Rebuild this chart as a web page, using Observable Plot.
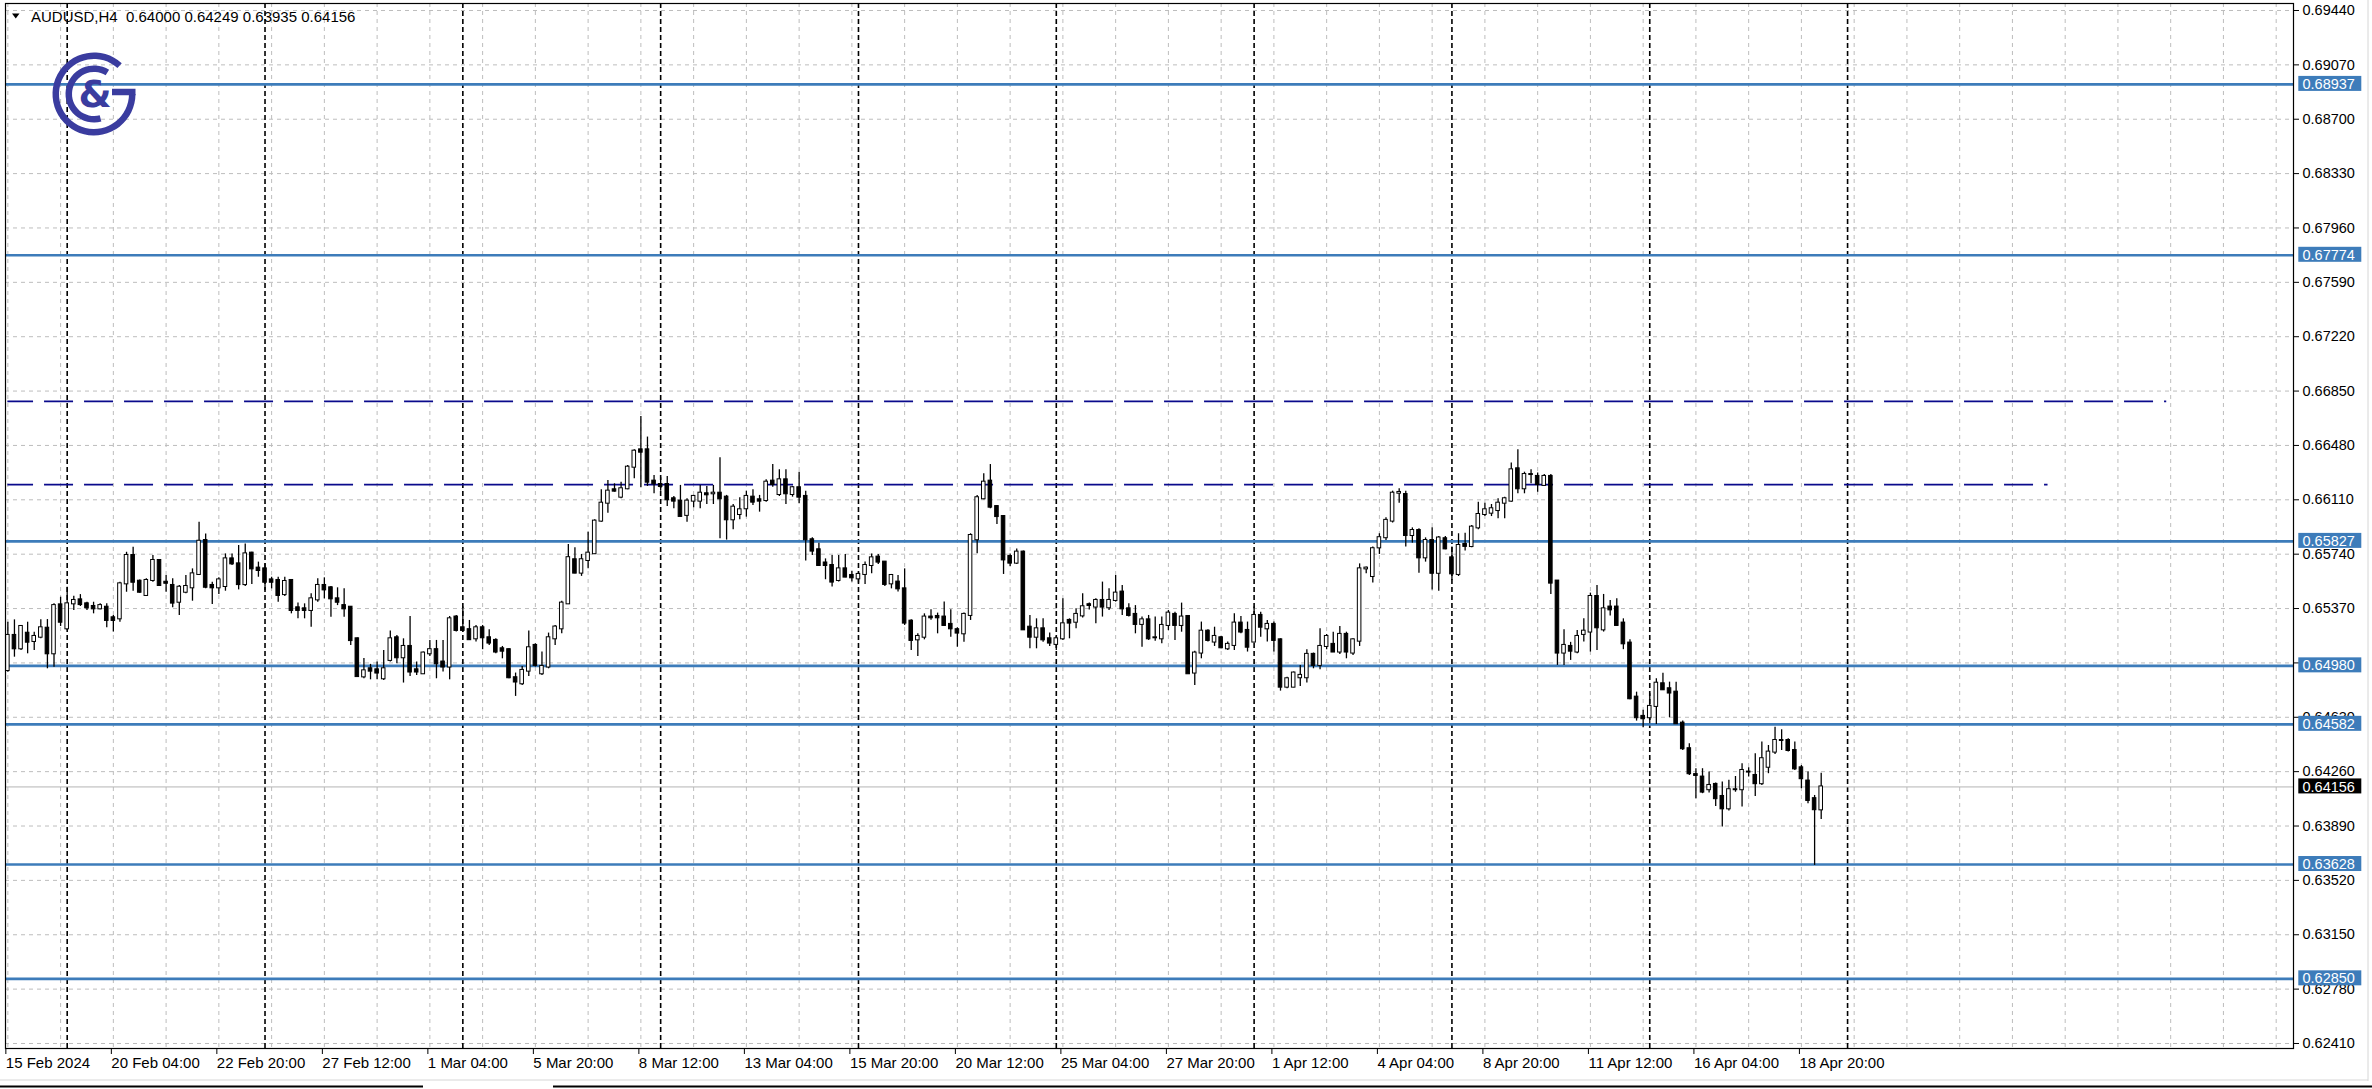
<!DOCTYPE html>
<html><head><meta charset="utf-8">
<script src="https://cdn.jsdelivr.net/npm/d3@7"></script>
<script src="https://cdn.jsdelivr.net/npm/@observablehq/plot@0.6"></script>
<style>html,body{margin:0;padding:0;background:#fff;overflow:hidden}svg{display:block}</style>
</head><body><div id="chart"></div>
<script>
// ---------------- data ----------------
const symbol = "AUDUSD,H4";
const opens = [0.64948,0.65187,0.65096,0.65202,0.65146,0.65175,0.65236,0.65062,0.65395,0.65232,0.65402,0.65429,0.65402,0.65384,0.65368,0.65379,0.65307,0.65300,0.65538,0.65731,0.65556,0.65459,0.65561,0.65697,0.65549,0.65527,0.65413,0.65481,0.65511,0.65602,0.65833,0.65527,0.65511,0.65520,0.65708,0.65674,0.65533,0.65747,0.65645,0.65640,0.65565,0.65561,0.65465,0.65561,0.65375,0.65368,0.65357,0.65429,0.65527,0.65511,0.65436,0.65390,0.65379,0.65164,0.64905,0.64960,0.64953,0.64892,0.65017,0.65171,0.65035,0.65112,0.64953,0.64926,0.65062,0.65090,0.65006,0.64972,0.65312,0.65239,0.65226,0.65164,0.65239,0.65171,0.65153,0.65096,0.65090,0.64899,0.64858,0.64944,0.65119,0.64926,0.64972,0.65164,0.65232,0.65402,0.65702,0.65611,0.65697,0.65743,0.65965,0.66087,0.66178,0.66128,0.66185,0.66332,0.66450,0.66450,0.66237,0.66214,0.66214,0.66117,0.66101,0.66004,0.66101,0.66101,0.66151,0.66151,0.66155,0.66128,0.65974,0.66010,0.66049,0.66128,0.66110,0.66105,0.66237,0.66146,0.66246,0.66146,0.66192,0.66133,0.65838,0.65770,0.65680,0.65663,0.65561,0.65640,0.65595,0.65572,0.65602,0.65663,0.65720,0.65686,0.65538,0.65550,0.65504,0.65284,0.65157,0.65175,0.65312,0.65316,0.65312,0.65262,0.65226,0.65198,0.65323,0.65838,0.66117,0.66237,0.66064,0.65996,0.65724,0.65679,0.65754,0.65243,0.65175,0.65232,0.65164,0.65126,0.65164,0.65289,0.65277,0.65320,0.65396,0.65380,0.65425,0.65375,0.65425,0.65482,0.65368,0.65330,0.65262,0.65293,0.65171,0.65164,0.65255,0.65330,0.65255,0.65316,0.64931,0.65067,0.65216,0.65142,0.65171,0.65096,0.65119,0.65271,0.65221,0.65142,0.65323,0.65232,0.65262,0.65157,0.64835,0.64835,0.64899,0.64899,0.65058,0.64983,0.65112,0.65126,0.65074,0.65194,0.65067,0.65148,0.65640,0.65588,0.65783,0.65852,0.65965,0.66155,0.66146,0.65867,0.65901,0.65715,0.65833,0.65610,0.65845,0.65715,0.65602,0.65806,0.65792,0.65919,0.66010,0.66019,0.66037,0.66087,0.66101,0.66321,0.66185,0.66282,0.66269,0.66208,0.66269,0.65557,0.65067,0.65112,0.65074,0.65194,0.65210,0.65452,0.65225,0.65380,0.65380,0.65271,0.65135,0.64767,0.64636,0.64627,0.64704,0.64858,0.64824,0.64801,0.64590,0.64416,0.64240,0.64223,0.64137,0.64173,0.64091,0.64007,0.64137,0.64137,0.64257,0.64234,0.64178,0.64290,0.64393,0.64472,0.64472,0.64404,0.64286,0.64196,0.64076,0.64000];
const highs = [0.65277,0.65293,0.65255,0.65277,0.65209,0.65293,0.65295,0.65402,0.65447,0.65515,0.65454,0.65465,0.65413,0.65413,0.65402,0.65402,0.65323,0.65549,0.65753,0.65787,0.65565,0.65572,0.65731,0.65701,0.65595,0.65572,0.65527,0.65595,0.65640,0.65958,0.65878,0.65549,0.65579,0.65742,0.65742,0.65799,0.65810,0.65753,0.65686,0.65674,0.65583,0.65583,0.65583,0.65561,0.65407,0.65402,0.65470,0.65572,0.65579,0.65520,0.65511,0.65504,0.65384,0.65170,0.65030,0.64990,0.65006,0.65085,0.65217,0.65187,0.65164,0.65316,0.65006,0.65074,0.65153,0.65153,0.65153,0.65316,0.65323,0.65380,0.65289,0.65255,0.65255,0.65226,0.65164,0.65112,0.65096,0.64931,0.64976,0.65217,0.65130,0.65074,0.65203,0.65255,0.65420,0.65806,0.65784,0.65738,0.65890,0.65974,0.66178,0.66242,0.66219,0.66230,0.66344,0.66450,0.66677,0.66537,0.66276,0.66260,0.66269,0.66133,0.66208,0.66117,0.66140,0.66208,0.66201,0.66208,0.66396,0.66140,0.66078,0.66124,0.66169,0.66178,0.66140,0.66246,0.66350,0.66314,0.66314,0.66201,0.66298,0.66169,0.65851,0.65815,0.65708,0.65731,0.65731,0.65738,0.65624,0.65618,0.65686,0.65742,0.65738,0.65686,0.65602,0.65595,0.65640,0.65293,0.65198,0.65334,0.65361,0.65339,0.65414,0.65361,0.65239,0.65339,0.65879,0.66140,0.66287,0.66350,0.66071,0.66003,0.65742,0.65776,0.65761,0.65323,0.65300,0.65300,0.65203,0.65180,0.65436,0.65300,0.65368,0.65470,0.65407,0.65436,0.65550,0.65504,0.65595,0.65527,0.65402,0.65390,0.65312,0.65323,0.65312,0.65312,0.65357,0.65345,0.65407,0.65323,0.65080,0.65278,0.65225,0.65243,0.65180,0.65142,0.65334,0.65316,0.65278,0.65380,0.65345,0.65289,0.65278,0.65164,0.64903,0.64938,0.64983,0.65090,0.65067,0.65232,0.65194,0.65209,0.65248,0.65209,0.65164,0.65674,0.65652,0.65788,0.65879,0.65988,0.66169,0.66185,0.66169,0.65919,0.65913,0.65851,0.65919,0.65861,0.65861,0.65788,0.65879,0.65883,0.65935,0.66094,0.66087,0.66078,0.66117,0.66128,0.66360,0.66450,0.66298,0.66314,0.66292,0.66282,0.66282,0.65561,0.65225,0.65140,0.65221,0.65300,0.65475,0.65527,0.65466,0.65425,0.65436,0.65300,0.65157,0.64801,0.64677,0.64790,0.64892,0.64930,0.64869,0.64869,0.64604,0.64450,0.64280,0.64280,0.64257,0.64182,0.64189,0.64201,0.64227,0.64314,0.64287,0.64382,0.64461,0.64438,0.64563,0.64545,0.64484,0.64461,0.64302,0.64257,0.64098,0.64249];
const lows = [0.64937,0.65039,0.65085,0.65062,0.65084,0.65164,0.64960,0.64971,0.65248,0.65221,0.65357,0.65384,0.65357,0.65334,0.65361,0.65239,0.65210,0.65277,0.65481,0.65488,0.65474,0.65452,0.65549,0.65520,0.65481,0.65375,0.65323,0.65470,0.65420,0.65595,0.65504,0.65397,0.65465,0.65488,0.65663,0.65497,0.65520,0.65533,0.65583,0.65493,0.65504,0.65413,0.65452,0.65334,0.65300,0.65300,0.65243,0.65413,0.65436,0.65311,0.65390,0.65311,0.65118,0.64903,0.64892,0.64885,0.64885,0.64880,0.65006,0.64994,0.64863,0.64908,0.64915,0.64922,0.65044,0.64892,0.64938,0.64885,0.65210,0.65210,0.65153,0.65142,0.65090,0.65119,0.65062,0.65028,0.64892,0.64772,0.64847,0.64908,0.64972,0.64915,0.64960,0.65119,0.65198,0.65398,0.65607,0.65589,0.65641,0.65738,0.65958,0.66019,0.66162,0.66117,0.66178,0.66253,0.66192,0.66201,0.66151,0.66169,0.66065,0.66049,0.65992,0.65958,0.66056,0.66049,0.66078,0.66078,0.65845,0.65836,0.65906,0.65974,0.65992,0.66071,0.66026,0.66094,0.66196,0.66133,0.66078,0.66128,0.66083,0.65693,0.65731,0.65656,0.65566,0.65516,0.65550,0.65579,0.65550,0.65543,0.65534,0.65606,0.65670,0.65520,0.65504,0.65482,0.65255,0.65085,0.65044,0.65157,0.65290,0.65198,0.65248,0.65175,0.65107,0.65141,0.65289,0.65743,0.66110,0.66049,0.65942,0.65602,0.65656,0.65670,0.65220,0.65096,0.65096,0.65141,0.65112,0.65085,0.65153,0.65164,0.65232,0.65305,0.65360,0.65266,0.65312,0.65357,0.65414,0.65323,0.65312,0.65198,0.65107,0.65153,0.65148,0.65130,0.65220,0.65153,0.65209,0.64922,0.64847,0.65028,0.65142,0.65112,0.65096,0.65085,0.65085,0.65198,0.65074,0.65135,0.65175,0.65142,0.65074,0.64808,0.64824,0.64831,0.64840,0.64863,0.64960,0.64953,0.65090,0.65074,0.65058,0.65028,0.65051,0.65112,0.65607,0.65543,0.65738,0.65833,0.65952,0.66087,0.65788,0.65815,0.65610,0.65686,0.65497,0.65488,0.65770,0.65561,0.65588,0.65761,0.65783,0.65906,0.65996,0.65996,0.65981,0.65981,0.66094,0.66151,0.66151,0.66219,0.66162,0.66201,0.65466,0.64983,0.64983,0.65017,0.65062,0.65142,0.65074,0.65085,0.65210,0.65320,0.65248,0.65090,0.64749,0.64604,0.64559,0.64586,0.64581,0.64813,0.64627,0.64581,0.64404,0.64234,0.64076,0.64110,0.64114,0.64023,0.63883,0.63992,0.64120,0.64019,0.64223,0.64091,0.64166,0.64246,0.64377,0.64404,0.64393,0.64268,0.64144,0.64041,0.63622,0.63935];
const closes = [0.65187,0.65096,0.65248,0.65141,0.65180,0.65239,0.65062,0.65390,0.65277,0.65402,0.65425,0.65397,0.65375,0.65368,0.65390,0.65289,0.65289,0.65538,0.65731,0.65549,0.65481,0.65561,0.65697,0.65527,0.65542,0.65407,0.65515,0.65520,0.65606,0.65828,0.65515,0.65511,0.65565,0.65708,0.65674,0.65533,0.65742,0.65640,0.65629,0.65549,0.65549,0.65459,0.65554,0.65357,0.65357,0.65357,0.65436,0.65527,0.65497,0.65436,0.65413,0.65368,0.65152,0.64907,0.64946,0.64944,0.64931,0.64960,0.65164,0.65035,0.65112,0.64938,0.64938,0.65067,0.65090,0.64994,0.64972,0.65300,0.65221,0.65221,0.65158,0.65239,0.65171,0.65135,0.65074,0.65080,0.64899,0.64870,0.64949,0.65103,0.64983,0.64976,0.65171,0.65244,0.65407,0.65716,0.65611,0.65702,0.65747,0.65965,0.66087,0.66169,0.66169,0.66185,0.66332,0.66441,0.66434,0.66230,0.66219,0.66201,0.66110,0.66101,0.65997,0.66101,0.66133,0.66155,0.66144,0.66155,0.66117,0.65974,0.66060,0.66042,0.66133,0.66094,0.66101,0.66230,0.66214,0.66246,0.66151,0.66192,0.66128,0.65838,0.65761,0.65663,0.65663,0.65550,0.65640,0.65584,0.65579,0.65602,0.65663,0.65715,0.65686,0.65534,0.65595,0.65504,0.65271,0.65153,0.65180,0.65312,0.65307,0.65307,0.65255,0.65232,0.65203,0.65330,0.65867,0.66124,0.66230,0.66060,0.65996,0.65701,0.65679,0.65754,0.65225,0.65175,0.65232,0.65157,0.65135,0.65164,0.65266,0.65271,0.65330,0.65382,0.65391,0.65425,0.65380,0.65425,0.65475,0.65368,0.65323,0.65262,0.65293,0.65164,0.65171,0.65255,0.65339,0.65255,0.65312,0.64926,0.65067,0.65216,0.65153,0.65180,0.65103,0.65126,0.65271,0.65210,0.65107,0.65323,0.65243,0.65262,0.65153,0.64835,0.64892,0.64931,0.64915,0.65058,0.64983,0.65112,0.65180,0.65074,0.65194,0.65074,0.65157,0.65640,0.65645,0.65777,0.65852,0.65970,0.66155,0.66160,0.65867,0.65901,0.65715,0.65833,0.65610,0.65850,0.65776,0.65606,0.65799,0.65793,0.65924,0.66010,0.66042,0.66049,0.66087,0.66117,0.66314,0.66185,0.66282,0.66282,0.66214,0.66269,0.65543,0.65067,0.65119,0.65080,0.65180,0.65216,0.65452,0.65239,0.65368,0.65361,0.65255,0.65130,0.64756,0.64627,0.64620,0.64704,0.64862,0.64817,0.64795,0.64586,0.64416,0.64246,0.64234,0.64121,0.64166,0.64076,0.64007,0.64137,0.64137,0.64268,0.64257,0.64178,0.64348,0.64393,0.64472,0.64472,0.64404,0.64279,0.64212,0.64064,0.64001,0.64156];

const levels = [0.68937, 0.67774, 0.65827, 0.64980, 0.64582, 0.63628, 0.62850];
const lastPrice = 0.64156;
const trendPrices = [0.66780, 0.66214];
const trendEndBars = [327.4, 309.4];
const yTicks = [0.62410,0.62780,0.63150,0.63520,0.63890,0.64260,0.64630,0.65000,0.65370,0.65740,0.66110,0.66480,0.66850,0.67220,0.67590,0.67960,0.68330,0.68700,0.69070,0.69440];
const xTickLabels = ["15 Feb 2024","20 Feb 04:00","22 Feb 20:00","27 Feb 12:00","1 Mar 04:00","5 Mar 20:00","8 Mar 12:00","13 Mar 04:00","15 Mar 20:00","20 Mar 12:00","25 Mar 04:00","27 Mar 20:00","1 Apr 12:00","4 Apr 04:00","8 Apr 20:00","11 Apr 12:00","16 Apr 04:00","18 Apr 20:00"];
const firstBarUTC = Date.UTC(2024, 1, 15, 12);  // first visible H4 bar

// ---------------- layout ----------------
const W = 2372, H = 1089;
const mL = 5, mR = 79, mT = 3, mB = 41;
const barPx = 6.594, firstBarPx = 7.35;
const xDomain = [(mL - firstBarPx) / barPx, (W - mR - firstBarPx) / barPx];
const yDomain = [0.623759, 0.694876];
const FONT = "'Liberation Sans', Arial, sans-serif";

const slots = [];
for (let t = firstBarUTC; slots.length < Math.ceil(xDomain[1]) + 1; t += 4 * 3600e3) {
  const d = new Date(t), wd = d.getUTCDay();
  if (wd !== 0 && wd !== 6) slots.push(d);
}
const nBars = opens.length;
const firstFutureMonday = slots.findIndex((d, i) => i >= nBars && d.getUTCDay() === 1 && d.getUTCHours() === 0);
const separators = slots.map((d, i) => (d.getUTCDay() === 1 && d.getUTCHours() === 0 && i <= firstFutureMonday) ? i : null).filter(i => i !== null);
const gridBars = d3.range(0, xDomain[1], 8);
const labelBars = xTickLabels.map((_, k) => k * 16);

const candles = opens.map((o, i) => ({i, open: o, high: highs[i], low: lows[i], close: closes[i], up: closes[i] >= o}));
const trends = trendPrices.map((p, k) => ({price: p, end: trendEndBars[k]}));

// price ticks whose label is completely covered by a level tag are not labelled
const pxPerPrice = (H - mT - mB) / (yDomain[1] - yDomain[0]);
const coveredTick = v => levels.some(l => Math.abs(l - v) * pxPerPrice < 4);

const levelColor = "#3d7cba";
const chart = Plot.plot({
  width: W, height: H,
  marginLeft: mL, marginRight: mR, marginTop: mT, marginBottom: mB,
  x: {type: "linear", domain: xDomain, axis: null},
  y: {type: "linear", domain: yDomain, axis: null},
  style: {background: "#fff", fontFamily: FONT, fontSize: "14px", color: "#000", overflow: "visible"},
  marks: [
    Plot.ruleY(yTicks, {stroke: "#bdbdbd", strokeDasharray: "4,4", strokeWidth: 1}),
    Plot.ruleX(gridBars, {stroke: "#bdbdbd", strokeDasharray: "4,4", strokeWidth: 1}),
    Plot.ruleX(separators, {stroke: "#000", strokeDasharray: "5,3", strokeWidth: 1.6}),
    Plot.ruleY([lastPrice], {stroke: "#b4b4b4", strokeWidth: 1}),
    Plot.ruleY(levels, {stroke: levelColor, strokeWidth: 2.6}),
    Plot.ruleY(trends, {y: "price", x2: "end", stroke: "#0a0a8c", strokeWidth: 1.8, strokeDasharray: "29,11", strokeDashoffset: 3.3}),
    Plot.ruleX(candles, {x: "i", y1: "low", y2: "high", stroke: "#000", strokeWidth: 1.3}),
    Plot.rect(candles, {x1: d => d.i - 0.27, x2: d => d.i + 0.27, y1: "open", y2: "close",
      fill: d => d.up ? "#fff" : "#000", stroke: "#000", strokeWidth: 1, insetTop: -0.5, insetBottom: -0.5}),
    Plot.frame({stroke: "#000", strokeWidth: 1.2}),
    Plot.axisY(yTicks, {anchor: "right", tickSize: 5, tickPadding: 4, fontSize: 14.5,
      tickFormat: d => coveredTick(d) ? "" : d.toFixed(5)}),
    Plot.axisX(labelBars, {anchor: "bottom", tickSize: 6, tickPadding: 3, tickFormat: (d, k) => xTickLabels[k], textAnchor: "start", dx: -2, fontSize: 15})
  ]
});
document.getElementById("chart").appendChild(chart);

// ---------------- overlays (price tags, title, logo) ----------------
const svg = d3.select(chart);
const yS = chart.scale("y");
const tagX = W - mR + 5.3, tagW = 63, tagH = 15;
const tags = svg.append("g").attr("font-family", FONT).attr("font-size", 14.5).attr("text-anchor", "start");
levels.forEach(v => {
  const y = yS.apply(v);
  tags.append("rect").attr("x", tagX).attr("y", y - tagH / 2 - 0.5).attr("width", tagW).attr("height", tagH).attr("fill", levelColor);
  tags.append("text").attr("x", tagX + 4.2).attr("y", y).attr("dy", "0.35em").attr("fill", "#fff").text(v.toFixed(5));
});
{
  const y = yS.apply(lastPrice);
  tags.append("rect").attr("x", tagX).attr("y", y - tagH / 2 - 0.5).attr("width", tagW).attr("height", tagH).attr("fill", "#000");
  tags.append("text").attr("x", tagX + 4.2).attr("y", y).attr("dy", "0.35em").attr("fill", "#fff").text(lastPrice.toFixed(5));
}

// title
const L = nBars - 1;
const title = svg.append("g").attr("font-family", FONT).attr("font-size", 15).attr("text-anchor", "start");
title.append("path").attr("d", "M12,13.5L19.5,13.5L15.75,18.5Z").attr("fill", "#000");
title.append("text").attr("x", 31).attr("y", 21.5).attr("xml:space", "preserve").style("white-space", "pre").attr("fill", "#000")
  .text(`${symbol}  ${opens[L].toFixed(5)} ${highs[L].toFixed(5)} ${lows[L].toFixed(5)} ${closes[L].toFixed(5)}`);

// logo
const logoColor = "#3a3c9f";
const lg = svg.append("g").attr("transform", "translate(94,94)").attr("fill", "none").attr("stroke", logoColor);
const deg = Math.PI / 180;
lg.append("path").attr("d", d3.arc()({innerRadius: 35, outerRadius: 41.5, startAngle: 90 * deg, endAngle: 402 * deg})).attr("fill", logoColor).attr("stroke", "none");
lg.append("path").attr("d", d3.arc()({innerRadius: 22, outerRadius: 28.5, startAngle: 165 * deg, endAngle: 392 * deg})).attr("fill", logoColor).attr("stroke", "none");
lg.append("line").attr("x1", 18).attr("x2", 41.5).attr("y1", -2).attr("y2", -2).attr("stroke-width", 6.5);
lg.append("text").attr("x", 1).attr("y", 13).attr("text-anchor", "middle").attr("font-family", "'DejaVu Sans', sans-serif")
  .attr("font-weight", "bold").attr("font-size", 38).attr("fill", logoColor).attr("stroke", "none").text("&");

// window edges
svg.append("line").attr("x1", W - 4).attr("x2", W - 4).attr("y1", 0).attr("y2", H - 8).attr("stroke", "#d6d6d6");
svg.append("line").attr("x1", 0).attr("x2", W - 4).attr("y1", H - 9).attr("y2", H - 9).attr("stroke", "#d6d6d6");
svg.append("line").attr("x1", 0).attr("x2", 423).attr("y1", H - 2.5).attr("y2", H - 2.5).attr("stroke", "#000").attr("stroke-width", 2);
svg.append("line").attr("x1", 553).attr("x2", W).attr("y1", H - 2.5).attr("y2", H - 2.5).attr("stroke", "#000").attr("stroke-width", 2);
</script>
</body></html>
